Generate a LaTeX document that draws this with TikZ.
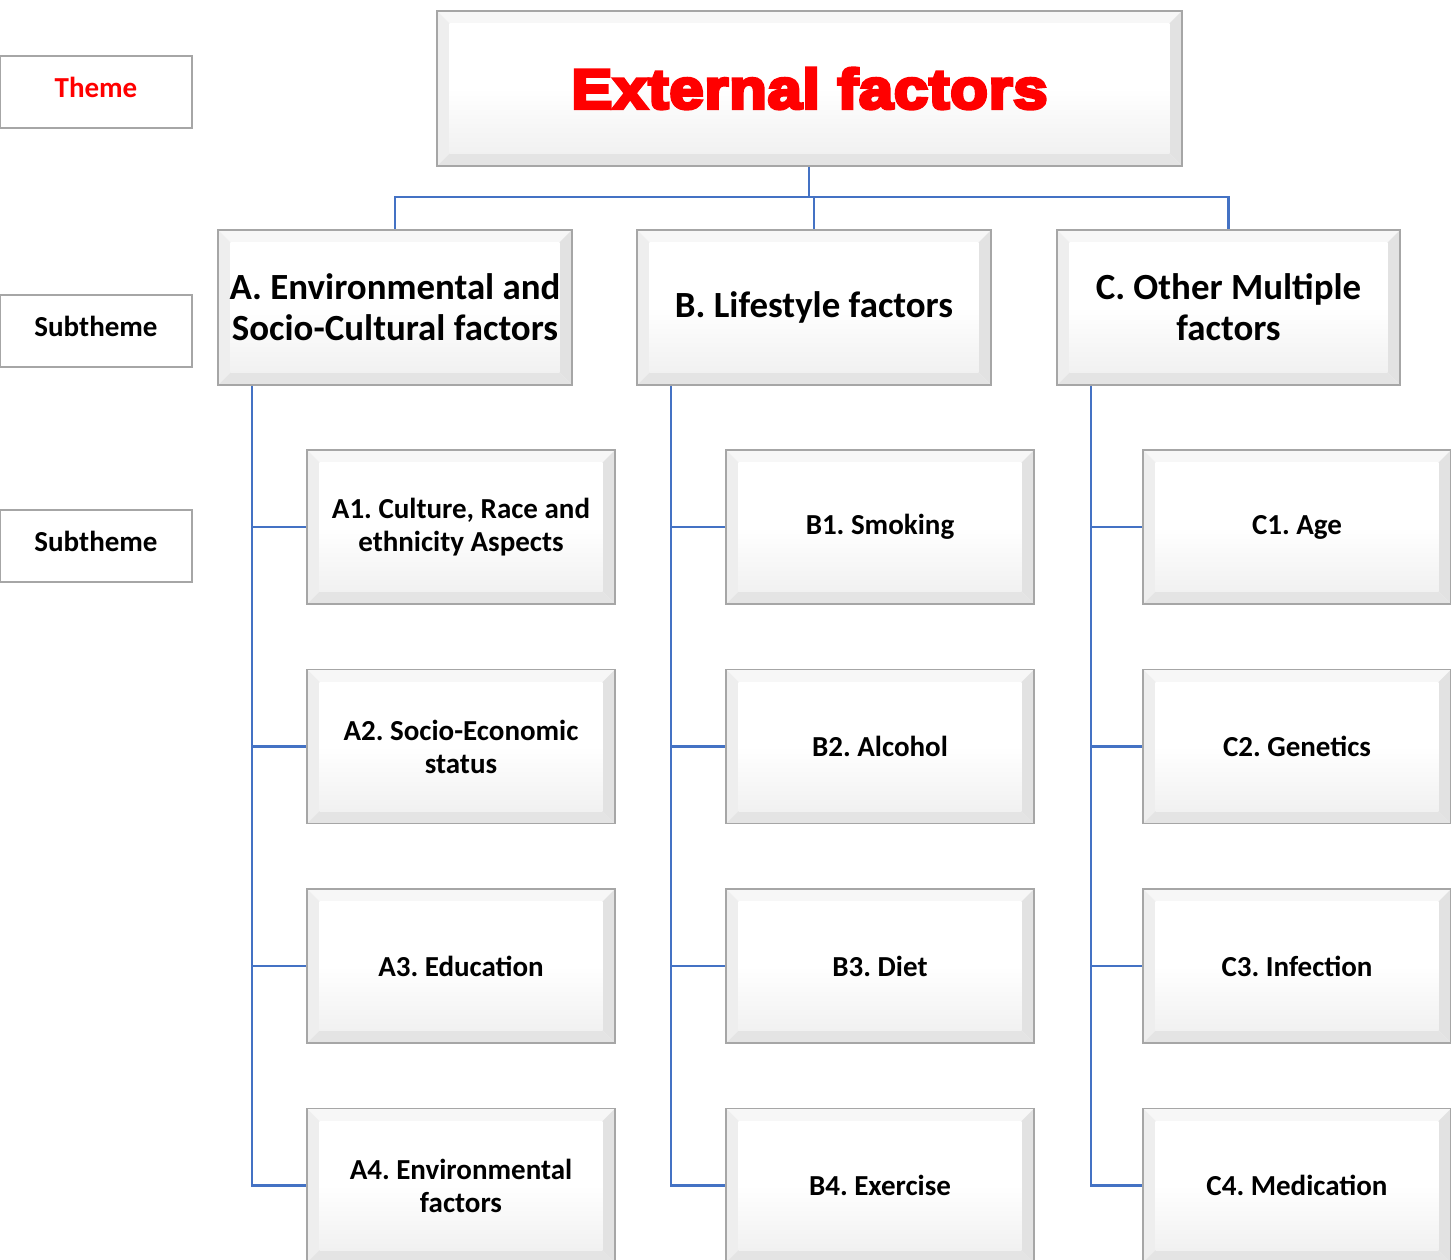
\documentclass[tikz,border=0pt]{standalone}
\usepackage{fontspec}
\setmainfont{Carlito}
\newfontfamily\heavyfont[FakeStretch=1.1,LetterSpace=1.5,BoldFeatures={FakeBold=6}]{Liberation Sans}
\frenchspacing
\definecolor{rule}{HTML}{4472C4}
\definecolor{edge}{HTML}{A6A6A6}
\definecolor{faceT}{HTML}{F7F7F7}
\definecolor{faceL}{HTML}{EEEEEE}
\definecolor{faceR}{HTML}{E2E2E2}
\definecolor{faceB}{HTML}{E4E4E4}
\definecolor{faceI}{HTML}{F1F1F1}
\definecolor{titlered}{HTML}{FF0000}
\tikzset{
  conn/.style={draw=rule, line width=1.4pt},
  tag/.style={draw=edge, line width=1.3pt, fill=white, inner sep=0pt,
    minimum width=3.84cm, minimum height=1.44cm, text depth=0.17cm,
    font=\fontsize{16.5}{19}\selectfont\bfseries},
  bevel/.style={draw=edge, line width=1pt, fill=white, inner sep=0pt, align=center,
    path picture={
      \def\bd{0.25cm}
      \path (path picture bounding box.south west) coordinate (p1)
            (path picture bounding box.north east) coordinate (p3)
            (p1 |- p3) coordinate (p4) (p3 |- p1) coordinate (p2);
      \path ([xshift=\bd,yshift=\bd]p1) coordinate (q1)
            ([xshift=-\bd,yshift=\bd]p2) coordinate (q2)
            ([xshift=-\bd,yshift=-\bd]p3) coordinate (q3)
            ([xshift=\bd,yshift=-\bd]p4) coordinate (q4);
      \fill[faceT] (p4) -- (p3) -- (q3) -- (q4) -- cycle;
      \fill[faceL] (p1) -- (p4) -- (q4) -- (q1) -- cycle;
      \fill[faceR] (p2) -- (p3) -- (q3) -- (q2) -- cycle;
      \fill[faceB] (p1) -- (p2) -- (q2) -- (q1) -- cycle;
      \shade[top color=white, bottom color=faceI, middle color=white] (q1) rectangle (q3);
    }},
  titlebox/.style={bevel, minimum width=14.9cm, minimum height=3.1cm,
    font=\heavyfont\bfseries\fontsize{31.8}{36}\selectfont, text=titlered},
  groupbox/.style={bevel, minimum height=3.1cm, font=\fontsize{21}{23.5}\selectfont\bfseries},
  leafbox/.style={bevel, minimum width=6.16cm, minimum height=3.08cm,
    font=\fontsize{16.5}{18.8}\selectfont\bfseries},
}
\begin{document}
\begin{tikzpicture}[x=0.02cm, y=-0.02cm]
  \useasboundingbox (0,0) rectangle (1451,1259);
  \clip (0,0) rectangle (1451,1259);
  \fill[white] (0,0) rectangle (1451,1259);

  % level legend on the left
  \node[tag, text=titlered] (lTheme) at (96,92) {Theme};
  \node[tag] (lSub1) at (96,331) {Subtheme};
  \node[tag] (lSub2) at (96,546) {Subtheme};

  % theme
  \node[titlebox] (T) at (809.5,88.5) {External factors};

  % subthemes
  \node[groupbox, minimum width=7.08cm] (A) at (395,307.5) {A. Environmental and\\Socio-Cultural factors};
  \node[groupbox, minimum width=7.08cm] (B) at (814,307.5) {B. Lifestyle factors};
  \node[groupbox, minimum width=6.86cm] (C) at (1228.5,307.5) {C. Other Multiple\\factors};

  % leaves
  \node[leafbox] (A1) at (461,527) {A1. Culture, Race and\\ethnicity Aspects};
  \node[leafbox] (A2) at (461,746.5) {A2. Socio-Economic\\status};
  \node[leafbox] (A3) at (461,966) {A3. Education};
  \node[leafbox] (A4) at (461,1185.5) {A4. Environmental\\factors};

  \node[leafbox] (B1) at (880,527) {B1. Smoking};
  \node[leafbox] (B2) at (880,746.5) {B2. Alcohol};
  \node[leafbox] (B3) at (880,966) {B3. Diet};
  \node[leafbox] (B4) at (880,1185.5) {B4. Exercise};

  \node[leafbox] (C1) at (1297,527) {C1. Age};
  \node[leafbox] (C2) at (1297,746.5) {C2. Genetics};
  \node[leafbox] (C3) at (1297,966) {C3. Infection};
  \node[leafbox] (C4) at (1297,1185.5) {C4. Medication};

  % theme to subthemes
  \coordinate (hub) at (809,197);
  \draw[conn] (T.south -| hub) -- (hub);
  \draw[conn] (hub) -| (A.north);
  \draw[conn] (hub) -| (B.north);
  \draw[conn] (hub) -| (C.north);

  % subthemes to leaves along side rails
  \foreach \g in {A,B,C}{
    \path (\g.south west) ++(35,0) coordinate (\g rail);
    \draw[conn] (\g rail) |- (\g4.west);
    \foreach \i in {1,2,3}{
      \draw[conn] (\g rail |- \g\i.west) -- (\g\i.west);
    }
  }
\end{tikzpicture}
\end{document}
